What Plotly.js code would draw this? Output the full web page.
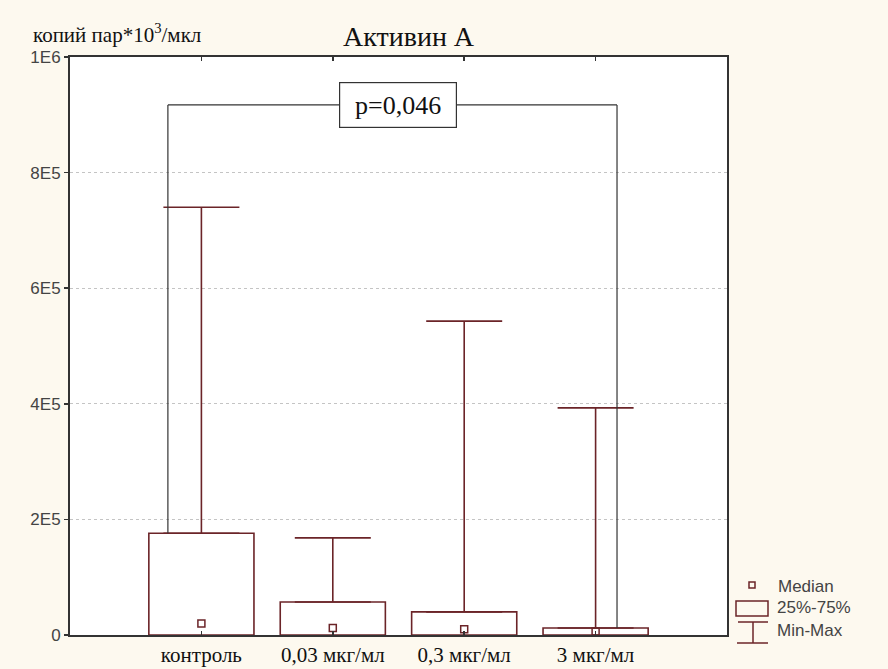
<!DOCTYPE html>
<html>
<head>
<meta charset="utf-8">
<script src="https://cdn.plot.ly/plotly-3.0.1.min.js"></script>
<style>html,body{margin:0;padding:0;background:#fdf9ef;}#chart{width:888px;height:669px;}</style>
</head>
<body>
<div id="chart"></div>
<script>
// ---- data ----
const categories = ["контроль", "0,03 мкг/мл", "0,3 мкг/мл", "3 мкг/мл"];
const q1Values = [0, 0, 0, 0];
const q3Values = [176000, 57000, 40000, 12000];
const minValues = [0, 0, 0, 0];
const maxValues = [740000, 168000, 543000, 393000];
const medianValues = [20000, 12000, 10000, 6000];
const yTickVals = [0, 200000, 400000, 600000, 800000, 1000000];
const yTickText = ["0", "2E5", "4E5", "6E5", "8E5", "1E6"];
const pText = "p=0,046";
const pBracketLevel = 917000;

// ---- styling ----
const maroon = "#6b2428";
const frame = "#333333";
const serif = "Liberation Serif";
const sans = "Liberation Sans";
const xPos = categories.map((c, i) => i + 1);

// plot area in pixels (for legend/title placement)
const L = 70, R = 161, T = 57, B = 34, W = 888, H = 669;
const pw = W - L - R, ph = H - T - B;
const px = x => (x - L) / pw;
const py = y => (H - B - y) / ph;

const traces = [
  {
    type: "bar", x: xPos,
    y: q3Values.map((v, i) => v - q1Values[i]),
    base: q1Values, width: 0.8,
    marker: {color: "#ffffff", line: {color: maroon, width: 1.6}},
    hoverinfo: "skip", showlegend: false
  },
  {
    type: "scatter", mode: "markers", x: xPos, y: q3Values,
    marker: {size: 1, color: "rgba(0,0,0,0)"},
    error_y: {type: "data", symmetric: false,
      array: maxValues.map((v, i) => v - q3Values[i]),
      arrayminus: q3Values.map(() => 0),
      color: maroon, thickness: 1.6, width: 38},
    hoverinfo: "skip", showlegend: false
  },
  {
    type: "scatter", mode: "markers", x: xPos, y: medianValues,
    marker: {symbol: "square-open", size: 7, color: maroon, line: {width: 1.5, color: maroon}},
    hoverinfo: "skip", showlegend: false
  }
];

const leftIdx = 0, rightIdx = 3;
const bxL = xPos[leftIdx] - 0.255, bxR = xPos[rightIdx] + 0.163;
const shapes = [
  {type: "line", xref: "x", yref: "y", x0: bxL, x1: bxL, y0: q3Values[leftIdx], y1: pBracketLevel, line: {color: frame, width: 1.2}},
  {type: "line", xref: "x", yref: "y", x0: bxL, x1: bxR, y0: pBracketLevel, y1: pBracketLevel, line: {color: frame, width: 1.2}},
  {type: "line", xref: "x", yref: "y", x0: bxR, x1: bxR, y0: pBracketLevel, y1: q3Values[rightIdx], line: {color: frame, width: 1.2}},
  // legend symbols
  {type: "rect", xref: "paper", yref: "paper", x0: px(749), x1: px(755), y0: py(588), y1: py(582), line: {color: maroon, width: 1.5}},
  {type: "rect", xref: "paper", yref: "paper", x0: px(736), x1: px(768), y0: py(616), y1: py(601), line: {color: maroon, width: 1.5}},
  {type: "line", xref: "paper", yref: "paper", x0: px(738), x1: px(768), y0: py(622), y1: py(622), line: {color: maroon, width: 1.5}},
  {type: "line", xref: "paper", yref: "paper", x0: px(753), x1: px(753), y0: py(622), y1: py(643), line: {color: maroon, width: 1.5}},
  {type: "line", xref: "paper", yref: "paper", x0: px(737), x1: px(768), y0: py(643), y1: py(643), line: {color: maroon, width: 1.5}}
];

const legFont = {family: sans, size: 17, color: "#444"};
const annotations = [
  {xref: "x", yref: "y", x: (bxL + bxR) / 2 + 0.04, y: pBracketLevel, xanchor: "center", yanchor: "middle",
   text: pText, showarrow: false,
   font: {family: serif, size: 26, color: "#111"},
   bgcolor: "#ffffff", bordercolor: frame, borderwidth: 1.2, borderpad: 3, width: 110, height: 38},
  {xref: "paper", yref: "paper", x: px(409), y: py(36), xanchor: "center", yanchor: "middle",
   text: "Активин А", showarrow: false,
   font: {family: serif, size: 28, color: "#111"}},
  {xref: "paper", yref: "paper", x: px(31), y: py(33), xanchor: "left", yanchor: "middle",
   text: "копий пар*10<sup>3</sup>/мкл", showarrow: false,
   font: {family: serif, size: 21, color: "#111"}},
  {xref: "paper", yref: "paper", x: px(776), y: py(586), xanchor: "left", yanchor: "middle", text: "Median", showarrow: false, font: legFont},
  {xref: "paper", yref: "paper", x: px(775), y: py(607), xanchor: "left", yanchor: "middle", text: "25%-75%", showarrow: false, font: legFont},
  {xref: "paper", yref: "paper", x: px(775), y: py(630), xanchor: "left", yanchor: "middle", text: "Min-Max", showarrow: false, font: legFont}
];

const layout = {
  width: W, height: H,
  margin: {l: L, r: R, t: T, b: B, pad: 0},
  paper_bgcolor: "#fdf9ef", plot_bgcolor: "#ffffff",
  showlegend: false,
  xaxis: {
    range: [0, 5], tickvals: xPos, ticktext: categories,
    showgrid: false, zeroline: false,
    showline: true, mirror: "ticks", linecolor: frame, linewidth: 2,
    ticks: "inside", ticklen: 4, tickcolor: frame, tickwidth: 1.5,
    tickfont: {family: serif, size: 21, color: "#111"}
  },
  yaxis: {
    range: [0, 1000000], tickvals: yTickVals, ticktext: yTickText,
    showgrid: true, gridcolor: "#c4c4c4", griddash: "dot", gridwidth: 1,
    zeroline: false,
    showline: true, mirror: true, linecolor: frame, linewidth: 2,
    ticks: "outside", ticklen: 4, tickcolor: frame, tickwidth: 1.5,
    tickfont: {family: sans, size: 17, color: "#444"}
  },
  shapes: shapes,
  annotations: annotations
};

Plotly.newPlot("chart", traces, layout, {staticPlot: true, displayModeBar: false});
</script>
</body>
</html>
